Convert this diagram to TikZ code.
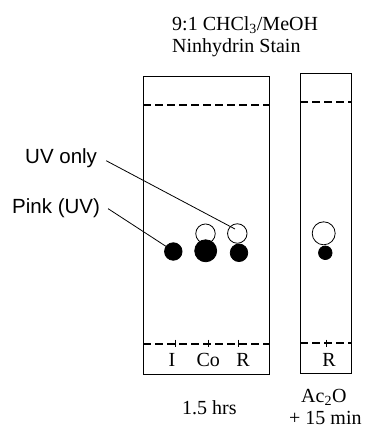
\documentclass[tikz,border=0pt]{standalone}
\usepackage{fontspec}
\setmainfont{Liberation Serif}
\newfontfamily\arialfont{Liberation Sans}
\begin{document}
\begin{tikzpicture}[x=1pt,y=-1pt,
  plate/.style={draw, line width=0.8pt},
  front/.style={line width=1.6pt, dash pattern=on 7.5pt off 4.5pt},
  spot/.style={circle, draw, line width=0.8pt, inner sep=0pt, fill=black},
  openspot/.style={circle, draw, line width=0.8pt, inner sep=0pt, fill=white},
  txt/.style={font=\fontsize{20}{24}\selectfont, inner sep=0pt},
  sans/.style={font=\arialfont\fontsize{20.5}{24}\selectfont, inner sep=0pt, anchor=base west}]
\useasboundingbox (0,0) rectangle (367,429);

% Plates
\draw [plate] (143,76) rectangle (269,374);
\draw [plate] (300,73) rectangle (351,373);
\draw [front] (143,105) -- (269,105);
\draw [front] (300,102) -- (351,102);
\draw [front] (143,344) -- (269,344);
\draw [front] (300,343) -- (351,343);
\foreach \x in {175,208,238,326}
  \draw [line width=0.8pt] (\x,339.5) -- (\x,347);

% Spots
\node (Iful) [spot, minimum size=17.5pt] at (173.3,251.5) {};
\node (Coopen) [openspot, minimum size=19.5pt] at (205.5,233.7) {};
\node (Coful) [spot, minimum size=22pt] at (205.7,250.8) {};
\node (Ropen) [openspot, minimum size=19.5pt] at (237.3,233.5) {};
\node (Rful) [spot, minimum size=17.5pt] at (239,252.8) {};
\node (Acopen) [openspot, minimum size=23pt] at (323.7,233.3) {};
\node (Acful) [spot, minimum size=13.5pt] at (325.3,252.8) {};

% Lane labels
\node (laneI) [txt, anchor=base] at (172,366) {I};
\node (laneCo) [txt, anchor=base] at (208.3,366) {Co};
\node (laneR) [txt, anchor=base] at (243,366) {R};
\node (laneAc) [txt, anchor=base] at (329,366.5) {R};

% Titles
\node (solv) [txt, anchor=base west] at (172,30) {9:1 CHCl\textsubscript{3}/MeOH};
\node (stain) [txt, anchor=base west] at (172,52) {Ninhydrin Stain};
\node (time) [txt, anchor=base west] at (182,414) {1.5 hrs};
\node (acet) [txt, anchor=base west] at (301,402) {Ac\textsubscript{2}O};
\node (extra) [txt, anchor=base west] at (289,424.5) {+ 15 min};

% Callouts
\node (uvlbl) [sans] at (25,163) {UV only};
\node (pinklbl) [sans] at (12,213) {Pink (UV)};
\coordinate (uvend) at (235,229);
\coordinate (pinkend) at (167,247);
\draw [line width=0.8pt] ([xshift=9pt,yshift=-3pt]uvlbl.east) -- (uvend);
\draw [line width=0.8pt] ([xshift=8pt,yshift=-1pt]pinklbl.east) -- (pinkend);
\end{tikzpicture}
\end{document}
